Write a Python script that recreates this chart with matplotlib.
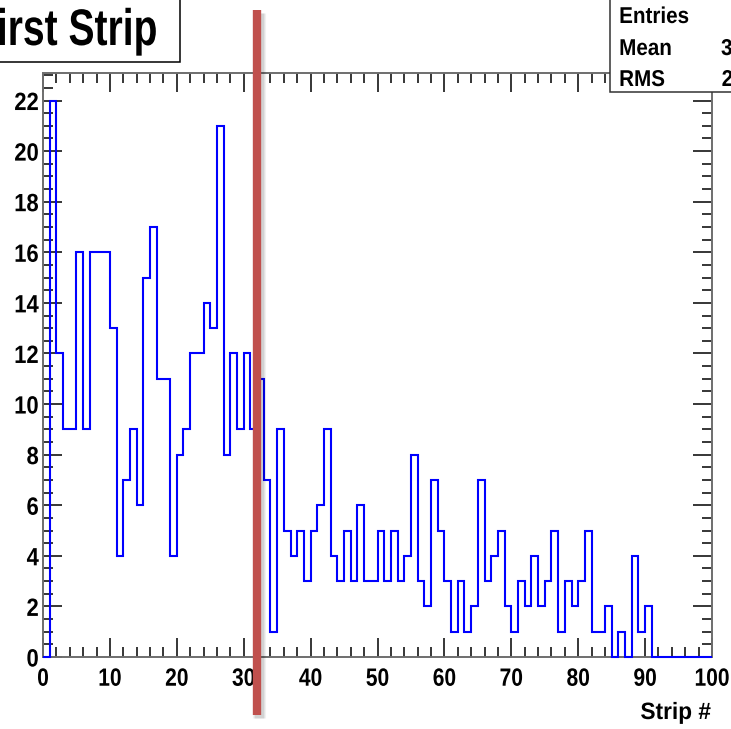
import numpy as np
import matplotlib
matplotlib.use("Agg")
import matplotlib.pyplot as plt
from matplotlib import transforms
from matplotlib.lines import Line2D
from matplotlib.patches import Rectangle
from matplotlib.path import Path
from matplotlib.patheffects import AbstractPathEffect

# ---- histogram content: hits per strip for the first strip ----
strip_lo, strip_hi, n_strips = 0, 100, 100
counts = [0, 22, 12, 9, 9, 16, 9, 16, 16, 16,
          13, 4, 7, 9, 6, 15, 17, 11, 11, 4,
          8, 9, 12, 12, 14, 13, 21, 8, 12, 9,
          12, 9, 11, 7, 1, 9, 5, 4, 5, 3,
          5, 6, 9, 4, 3, 5, 3, 6, 3, 3,
          5, 3, 5, 3, 4, 8, 3, 2, 7, 5,
          3, 1, 3, 1, 2, 7, 3, 4, 5, 2,
          1, 3, 2, 4, 2, 3, 5, 1, 3, 2,
          3, 5, 1, 1, 2, 0, 1, 0, 4, 1,
          2, 0, 0, 0, 0, 0, 0, 0, 0, 0]
x_ticks = [0, 10, 20, 30, 40, 50, 60, 70, 80, 90, 100]
y_ticks = [0, 2, 4, 6, 8, 10, 12, 14, 16, 18, 20, 22]
title = "First Strip"
x_label = "Strip #"
cut_strip = 32

plt.rcParams["font.family"] = ["Liberation Sans", "DejaVu Sans"]
plt.rcParams["font.weight"] = "bold"


class Squash(AbstractPathEffect):
    """Draw text horizontally condensed about its left, centre or right edge."""

    def __init__(self, sx, anchor):
        super().__init__()
        self.sx = sx
        self.anchor = anchor

    def draw_path(self, renderer, gc, tpath, affine, rgbFace=None):
        verts = tpath.vertices
        if tpath.codes is not None:
            verts = verts[tpath.codes != Path.CLOSEPOLY]
        if len(verts) == 0:
            return
        xs = affine.transform(verts)[:, 0]
        x0, x1 = xs.min(), xs.max()
        px = {"left": x0, "right": x1, "center": 0.5 * (x0 + x1)}[self.anchor]
        squash = transforms.Affine2D().translate(-px, 0).scale(self.sx, 1).translate(px, 0)
        renderer.draw_path(gc, tpath, affine + squash, rgbFace)


W, H, DPI = 731, 729, 100
fig = plt.figure(figsize=(W / DPI, H / DPI), dpi=DPI, facecolor="white")


def fx(px):
    return px / W


def fy(py):
    return 1 - py / H


# axes frame in pixel geometry
left, right, top, bottom = 43, 712, 72.7, 657
ax = fig.add_axes([fx(left), fy(bottom), fx(right) - fx(left), fy(top) - fy(bottom)])

edges = np.linspace(strip_lo, strip_hi, n_strips + 1)
ax.stairs(counts, edges, color="#0000ff", linewidth=1.5, baseline=0,
          zorder=5, clip_on=False)

ymax = 1.05 * max(counts)
ax.set_xlim(strip_lo, strip_hi)
ax.set_ylim(0, ymax)

ax.set_xticks(x_ticks)
ax.set_xticklabels([str(t) for t in x_ticks])
ax.set_yticks(y_ticks)
ax.set_yticklabels([str(t) for t in y_ticks])
ax.set_xticks(np.arange(strip_lo, strip_hi + 0.1, 2), minor=True)
ax.set_yticks(np.arange(0, ymax, 0.5), minor=True)

ax.tick_params(which="both", direction="in", top=True, right=True,
               color="black", width=1.1)
ax.tick_params(which="major", length=13.5)
ax.tick_params(which="minor", length=7)
ax.tick_params(axis="x", which="major", pad=7, labelsize=18)
ax.tick_params(axis="y", which="major", pad=3, labelsize=18)
for lab in ax.get_xticklabels():
    lab.set_fontweight("bold")
    lab.set_path_effects([Squash(0.84, "center")])
for lab in ax.get_yticklabels():
    lab.set_fontweight("bold")
    lab.set_path_effects([Squash(0.88, "right")])

for sp in ax.spines.values():
    sp.set_color("#6e6e6e")
    sp.set_linewidth(1.4)

# x-axis title, right-aligned under the frame
fig.text(fx(711), fy(719), x_label, ha="right", va="baseline",
         fontsize=17, fontweight="bold",
         path_effects=[Squash(0.96, "right")])

# title box in the top-left corner
fig.add_artist(Rectangle((fx(-60), fy(62)), fx(180) - fx(-60), fy(-10) - fy(62),
                         transform=fig.transFigure, facecolor="white",
                         edgecolor="black", linewidth=1.1, zorder=2))
fig.text(fx(158), fy(45), title, ha="right", va="baseline",
         fontsize=37, fontweight="bold", zorder=3,
         path_effects=[Squash(0.76, "right")])

# statistics box in the top-right corner
centers = 0.5 * (edges[:-1] + edges[1:])
w = np.asarray(counts, dtype=float)
entries = int(w.sum())
mean = float((w * centers).sum() / w.sum())
rms = float(np.sqrt((w * (centers - mean) ** 2).sum() / w.sum()))

fig.add_artist(Rectangle((fx(610), fy(91.7)), fx(820) - fx(610), fy(-10) - fy(91.7),
                         transform=fig.transFigure, facecolor="white",
                         edgecolor="#333333", linewidth=1.1, zorder=2))
stat_rows = [("Entries", f"{entries}"), ("Mean", f"{mean:.2f}"), ("RMS", f"{rms:.2f}")]
for (name, val), base in zip(stat_rows, [23, 55, 86]):
    fig.text(fx(619), fy(base), name, ha="left", va="baseline",
             fontsize=16.5, fontweight="bold", zorder=3,
             path_effects=[Squash(0.9, "left")])
    fig.text(fx(773), fy(base), val, ha="right", va="baseline",
             fontsize=16.5, fontweight="bold", zorder=3,
             path_effects=[Squash(0.9, "right")])

# vertical marker at the cut strip, with a soft shadow
blend = transforms.blended_transform_factory(ax.transData, fig.transFigure)
shift = transforms.ScaledTranslation(2 / DPI, -3 / DPI, fig.dpi_scale_trans)
for lw, a in [(9.5, 0.05), (8, 0.06), (6.5, 0.07)]:
    fig.add_artist(Line2D([cut_strip, cut_strip], [fy(10), fy(715)],
                          transform=blend + shift, color="black", alpha=a,
                          linewidth=lw, solid_capstyle="butt", zorder=9))
fig.add_artist(Line2D([cut_strip, cut_strip], [fy(10), fy(715)],
                      transform=blend, color="#c0504d", linewidth=6,
                      solid_capstyle="butt", zorder=10))

fig.savefig("out.png", dpi=DPI, facecolor="white")
